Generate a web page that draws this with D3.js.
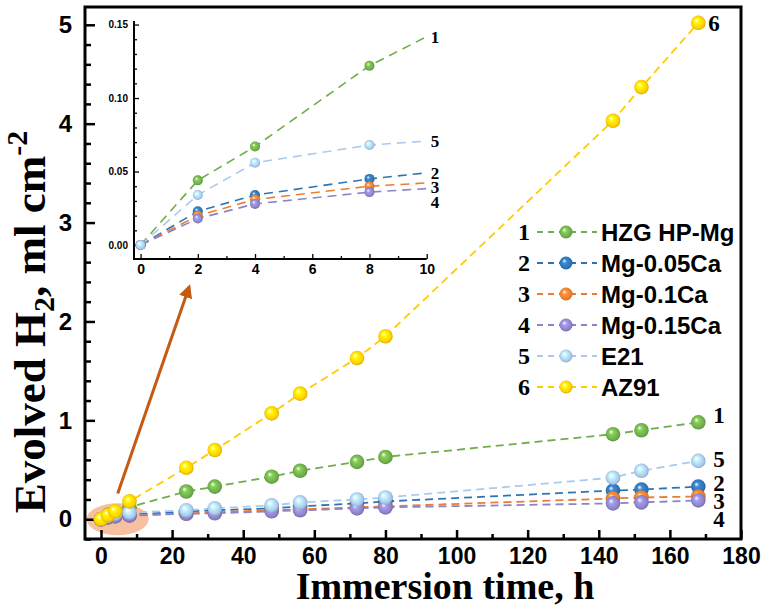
<!DOCTYPE html>
<html>
<head>
<meta charset="utf-8">
<script src="https://cdn.jsdelivr.net/npm/d3@7"></script>
<style>
  body { margin: 0; background: #fff; }
  svg { display: block; }
</style>
</head>
<body>
<div id="chart"></div>
<script>
var w = 762;
var h = 614;

// immersion times (h)
var times = [0, 2, 4, 8, 24, 32, 48, 56, 72, 80, 144, 152, 168];

// evolved H2, ml cm-2
var hzg   = [0, 0.044, 0.067, 0.122, 0.28, 0.33, 0.43, 0.49, 0.58, 0.63, 0.86, 0.90, 0.98];
var ca005 = [0, 0.023, 0.034, 0.045, 0.078, 0.09, 0.11, 0.13, 0.16, 0.18, 0.29, 0.30, 0.33];
var ca01  = [0, 0.020, 0.031, 0.040, 0.058, 0.07, 0.09, 0.10, 0.12, 0.13, 0.21, 0.22, 0.23];
var ca015 = [0, 0.018, 0.028, 0.036, 0.055, 0.06, 0.08, 0.09, 0.11, 0.12, 0.16, 0.17, 0.19];
var e21   = [0, 0.034, 0.056, 0.068, 0.09, 0.11, 0.14, 0.17, 0.20, 0.22, 0.42, 0.49, 0.59];
var az91  = [0, 0.04, 0.08, 0.18, 0.52, 0.70, 1.07, 1.27, 1.63, 1.85, 4.03, 4.37, 5.02];

var seriesNames = ["HZG HP-Mg", "Mg-0.05Ca", "Mg-0.1Ca", "Mg-0.15Ca", "E21", "AZ91"];
var seriesNums = ["1", "2", "3", "4", "5", "6"];
var seriesValues = [hzg, ca005, ca01, ca015, e21, az91];

var xTicks = [0, 20, 40, 60, 80, 100, 120, 140, 160, 180];
var yTicks = [0, 1, 2, 3, 4, 5];
var insetXTicks = [0, 2, 4, 6, 8, 10];
var insetYTicks = [0, 0.05, 0.10, 0.15];

var colors = ["#6fae4a", "#2e74b5", "#ed7d31", "#8c83c9", "#a8cbee", "#ffd000"];
var lineColors = ["#6fae4a", "#2e74b5", "#ed7d31", "#8c83c9", "#a8cbee", "#ffcc00"];

// label nudges at line ends (px)
var mainNudge = [-7, -4, 4, 19, -2, 0];
var insetNudge = [0, 0, 4, 13, 0, 0];

var series = seriesValues.map(function(vals, i) {
  return {
    name: seriesNames[i], num: seriesNums[i], color: colors[i], line: lineColors[i], i: i,
    pts: times.map(function(t, j) { return {t: t, v: vals[j]}; })
  };
});

var serif = "'Liberation Serif', 'Times New Roman', serif";
var sans = "'Liberation Sans', Arial, sans-serif";

var svg = d3.select("#chart")
            .append("svg")
            .attr("width", w)
            .attr("height", h)
            .style("background", "#fff");

var defs = svg.append("defs");
series.forEach(function(s) {
  var g = defs.append("radialGradient")
              .attr("id", "ball" + s.i)
              .attr("cx", "50%").attr("cy", "50%").attr("r", "55%")
              .attr("fx", "35%").attr("fy", "32%");
  g.append("stop").attr("offset", "0%").attr("stop-color", "#ffffff");
  g.append("stop").attr("offset", "30%").attr("stop-color", d3.color(s.color).brighter(0.5));
  g.append("stop").attr("offset", "75%").attr("stop-color", s.color);
  g.append("stop").attr("offset", "100%").attr("stop-color", d3.color(s.color).darker(0.7));
});

// main scales
var x = d3.scaleLinear().domain([-4.5, 180]).range([85, 741]);
var y = d3.scaleLinear().domain([-0.2, 5.18]).range([539, 7]);

// highlight ellipse and arrow
svg.append("ellipse")
   .attr("cx", x(4.7)).attr("cy", y(0.0))
   .attr("rx", 31).attr("ry", 16)
   .attr("fill", "#f7c0a0");

defs.append("marker")
    .attr("id", "arrowhead")
    .attr("viewBox", "0 0 10 10")
    .attr("refX", 8).attr("refY", 5)
    .attr("markerWidth", 4.5).attr("markerHeight", 4.5)
    .attr("orient", "auto")
    .append("path")
    .attr("d", "M0,0 L10,5 L0,10 z")
    .attr("fill", "#c55a11");

svg.append("line")
   .attr("x1", x(4.7)).attr("y1", y(0.26))
   .attr("x2", x(24.8)).attr("y2", y(2.35))
   .attr("stroke", "#c55a11")
   .attr("stroke-width", 3)
   .attr("marker-end", "url(#arrowhead)");

// frame
svg.append("rect")
   .attr("x", 85).attr("y", 7)
   .attr("width", 741 - 85).attr("height", 539 - 7)
   .attr("fill", "none")
   .attr("stroke", "#000")
   .attr("stroke-width", 3);

// main axes (ticks inward)
var xAxis = d3.axisBottom(x).tickValues(xTicks).tickSize(-9).tickPadding(9).tickFormat(d3.format("d"));
var xMinor = d3.axisBottom(x).tickValues(d3.range(10, 180, 20)).tickSize(-5).tickFormat("");
var yAxis = d3.axisLeft(y).tickValues(yTicks).tickSize(-10).tickPadding(13).tickFormat(d3.format("d"));
var yMinor = d3.axisLeft(y).tickValues(d3.range(-0.2, 5.1, 0.2).filter(function(v) {
  return Math.abs(v - Math.round(v)) > 0.01;
})).tickSize(-6).tickFormat("");

function styleAxis(g, size) {
  g.select(".domain").remove();
  g.selectAll(".tick line").attr("stroke", "#000").attr("stroke-width", 2.5);
  g.selectAll("text")
   .attr("fill", "#000")
   .attr("font-family", sans)
   .attr("font-weight", "bold")
   .attr("font-size", size);
}

svg.append("g").attr("transform", "translate(0,539)").call(xMinor).call(styleAxis, 23);
svg.append("g").attr("transform", "translate(0,539)").call(xAxis).call(styleAxis, 23);
svg.append("g").attr("transform", "translate(85,0)").call(yMinor).call(styleAxis, 24);
svg.append("g").attr("transform", "translate(85,0)").call(yAxis).call(styleAxis, 24);

// axis titles
svg.append("text")
   .attr("x", 445).attr("y", 599)
   .attr("text-anchor", "middle")
   .attr("font-family", serif)
   .attr("font-weight", "bold")
   .attr("font-size", 38)
   .text("Immersion time, h");

var yt = svg.append("text")
   .attr("transform", "translate(45,322) rotate(-90)")
   .attr("text-anchor", "middle")
   .attr("font-family", serif)
   .attr("font-weight", "bold")
   .attr("font-size", 45);
yt.append("tspan").text("Evolved H");
yt.append("tspan").attr("font-size", 30).attr("dy", 9).text("2");
yt.append("tspan").attr("dy", -9).text(", ml cm");
yt.append("tspan").attr("font-size", 30).attr("dy", -18).text("-2");

// main lines and markers
var line = d3.line().x(function(d) { return x(d.t); }).y(function(d) { return y(d.v); });

series.forEach(function(s) {
  svg.append("path")
     .datum(s.pts)
     .attr("d", line)
     .attr("fill", "none")
     .attr("stroke", s.line)
     .attr("stroke-width", 1.8)
     .attr("stroke-dasharray", "8,5");
});
series.forEach(function(s) {
  svg.append("g").selectAll("circle")
     .data(s.pts)
     .enter()
     .append("circle")
     .attr("cx", function(d) { return x(d.t); })
     .attr("cy", function(d) { return y(d.v); })
     .attr("r", 7.3)
     .attr("fill", "url(#ball" + s.i + ")");
});

// end labels
series.forEach(function(s) {
  var last = s.pts[s.pts.length - 1];
  svg.append("text")
     .attr("x", x(last.t) + (s.i === 5 ? 10 : 15))
     .attr("y", y(last.v) + mainNudge[s.i])
     .attr("dy", "0.35em")
     .attr("font-family", serif)
     .attr("font-weight", "bold")
     .attr("font-size", 23)
     .text(s.num);
});

// legend
var legend = svg.append("g").selectAll("g")
   .data(series)
   .enter()
   .append("g")
   .attr("transform", function(d, i) { return "translate(0," + (232 + i * 31) + ")"; });

legend.append("text")
      .attr("x", 518).attr("dy", "0.35em")
      .attr("font-family", serif).attr("font-weight", "bold").attr("font-size", 24)
      .text(function(d) { return d.num; });
legend.append("line")
      .attr("x1", 537).attr("x2", 597)
      .attr("stroke", function(d) { return d.line; })
      .attr("stroke-width", 1.8)
      .attr("stroke-dasharray", "6,5");
legend.append("circle")
      .attr("cx", 566).attr("r", 6.5)
      .attr("fill", function(d) { return "url(#ball" + d.i + ")"; });
legend.append("text")
      .attr("x", 601).attr("dy", "0.36em")
      .attr("font-family", sans).attr("font-weight", "bold").attr("font-size", 24)
      .text(function(d) { return d.name; });

// inset
var ix = d3.scaleLinear().domain([-0.23, 10]).range([134, 426.7]);
var iy = d3.scaleLinear().domain([-0.0095, 0.152]).range([259, 21.6]);

defs.append("clipPath").attr("id", "insetClip")
    .append("rect")
    .attr("x", 120).attr("y", 10)
    .attr("width", ix(10) - 120).attr("height", 260);

var inset = svg.append("g");

var ixAxis = d3.axisBottom(ix).tickValues(insetXTicks).tickSize(-5).tickPadding(5).tickFormat(d3.format("d"));
var ixMinor = d3.axisBottom(ix).tickValues([1, 3, 5, 7, 9]).tickSize(-3).tickFormat("");
var iyAxis = d3.axisLeft(iy).tickValues(insetYTicks).tickSize(-5).tickPadding(6).tickFormat(d3.format(".2f"));
var iyMinor = d3.axisLeft(iy).tickValues([0.01, 0.02, 0.03, 0.04, 0.06, 0.07, 0.08, 0.09, 0.11, 0.12, 0.13, 0.14]).tickSize(-3).tickFormat("");

function styleInset(g, size) {
  g.select(".domain").remove();
  g.selectAll(".tick line").attr("stroke", "#000").attr("stroke-width", 1.3);
  g.selectAll("text")
   .attr("fill", "#000")
   .attr("font-family", sans)
   .attr("font-weight", "bold")
   .attr("font-size", size);
}

inset.append("g").attr("transform", "translate(0,259)").call(ixMinor).call(styleInset, 14);
inset.append("g").attr("transform", "translate(0,259)").call(ixAxis).call(styleInset, 14);
inset.append("g").attr("transform", "translate(134,0)").call(iyMinor).call(styleInset, 10);
inset.append("g").attr("transform", "translate(134,0)").call(iyAxis).call(styleInset, 10);

inset.append("path")
     .attr("d", "M134,21 V259 H" + ix(10))
     .attr("fill", "none")
     .attr("stroke", "#000")
     .attr("stroke-width", 2);

var iline = d3.line().x(function(d) { return ix(d.t); }).y(function(d) { return iy(d.v); });
var insetSeries = series.slice(0, 5);
var iplot = inset.append("g").attr("clip-path", "url(#insetClip)");

insetSeries.forEach(function(s) {
  iplot.append("path")
       .datum(s.pts)
       .attr("d", iline)
       .attr("fill", "none")
       .attr("stroke", s.line)
       .attr("stroke-width", 1.6)
       .attr("stroke-dasharray", "9,6");
});
insetSeries.forEach(function(s) {
  iplot.append("g").selectAll("circle")
       .data(s.pts.filter(function(d) { return d.t <= 10; }))
       .enter()
       .append("circle")
       .attr("cx", function(d) { return ix(d.t); })
       .attr("cy", function(d) { return iy(d.v); })
       .attr("r", 5)
       .attr("fill", "url(#ball" + s.i + ")");
});

// inset end labels, where each line meets x = 10
insetSeries.forEach(function(s) {
  var a = s.pts[3], b = s.pts[4];
  var v10 = a.v + (b.v - a.v) * (10 - a.t) / (b.t - a.t);
  inset.append("text")
       .attr("x", ix(10) + 4)
       .attr("y", iy(v10) + insetNudge[s.i])
       .attr("dy", "0.35em")
       .attr("font-family", serif)
       .attr("font-weight", "bold")
       .attr("font-size", 17)
       .text(s.num);
});
</script>
</body>
</html>
